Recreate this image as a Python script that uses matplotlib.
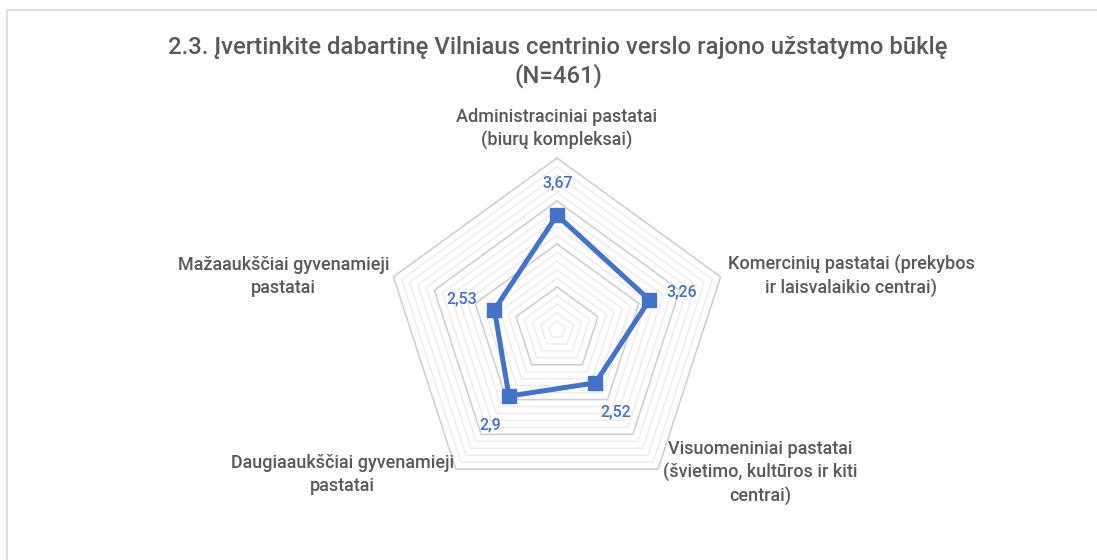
import numpy as np
import matplotlib
matplotlib.use("Agg")
import matplotlib.pyplot as plt
from matplotlib.patches import Rectangle

plt.rcParams['font.family'] = ['Roboto', 'DejaVu Sans']

TITLE = "2.3. Įvertinkite dabartinę Vilniaus centrinio verslo rajono užstatymo būklę\n(N=461)"
categories = ["Administraciniai pastatai\n(biurų kompleksai)",
              "Komercinių pastatai (prekybos\nir laisvalaikio centrai)",
              "Visuomeniniai pastatai\n(švietimo, kultūros ir kiti\ncentrai)",
              "Daugiaaukščiai gyvenamieji\npastatai",
              "Mažaaukščiai gyvenamieji\npastatai"]
values = [3.67, 3.26, 2.52, 2.9, 2.53]
value_labels = ["3,67", "3,26", "2,52", "2,9", "2,53"]

R_MIN, R_MAX = 1, 5
BLUE = "#4472C4"
GREY_TXT = "#595959"

fig = plt.figure(figsize=(10.97, 5.6), dpi=100)
fig.patch.set_facecolor("white")
fig.add_artist(Rectangle((7 / 1097, -0.1), 1.2, 1 - 10 / 560 + 0.1, transform=fig.transFigure,
                         fill=False, edgecolor="#d9d9d9", lw=1.2))

ax = fig.add_axes([385 / 1097, 58 / 560, 344 / 1097, 344 / 560], projection="polar")
ax.set_theta_offset(np.pi / 2)
ax.set_theta_direction(-1)
ax.set_ylim(R_MIN, R_MAX)
ax.grid(False)
ax.set_xticks([])
ax.set_yticks([])
ax.spines["polar"].set_visible(False)
ax.patch.set_alpha(0)

n = len(categories)
theta = np.arange(n) * 2 * np.pi / n
theta_c = np.append(theta, theta[0])

# pentagon gridlines: minor 0.2, major 1
for lev in np.arange(1.2, 5.001, 0.2):
    major = np.isclose(lev, round(lev))
    ax.plot(theta_c, [lev] * (n + 1), color="#d0d0d0" if major else "#ebebeb",
            lw=1.2 if major else 1.0, zorder=1, clip_on=False)

vals_c = np.append(values, values[0])
ax.plot(theta_c, vals_c, color=BLUE, lw=3.6, zorder=3, clip_on=False)
ax.plot(theta, values, ls="none", marker="s", ms=10, color=BLUE, zorder=4, clip_on=False)

# data labels (offsets in pixels)
lab_off = [(1, 32), (32, 8.5), (20, -29), (-19, -29), (-33, 10.5)]
for t, v, s, (dx, dy) in zip(theta, values, value_labels, lab_off):
    ax.annotate(s, (t, v), xytext=(dx * 0.72, dy * 0.72), textcoords="offset points",
                ha="center", va="center", color=BLUE, fontsize=11.5, fontweight="medium",
                annotation_clip=False)

# category labels
cat_pos = [((0, 8), "center", "bottom"),
           ((7, 0), "left", "center"),
           ((5, -4), "left", "center"),
           ((-2, -5), "right", "center"),
           ((-4, 0), "right", "center")]
for t, s, ((dx, dy), ha, va) in zip(theta, categories, cat_pos):
    ax.annotate(s, (t, R_MAX), xytext=(dx * 0.72, dy * 0.72), textcoords="offset points",
                ha=ha, va=va, multialignment="center", color=GREY_TXT, fontsize=13,
                fontweight="medium", linespacing=1.35, annotation_clip=False)

fig.text(558 / 1097, 1 - 62 / 560, TITLE, ha="center", va="center", fontsize=17.2,
         color=GREY_TXT, fontweight="medium", linespacing=1.2)

fig.savefig("out.png", dpi=100)
